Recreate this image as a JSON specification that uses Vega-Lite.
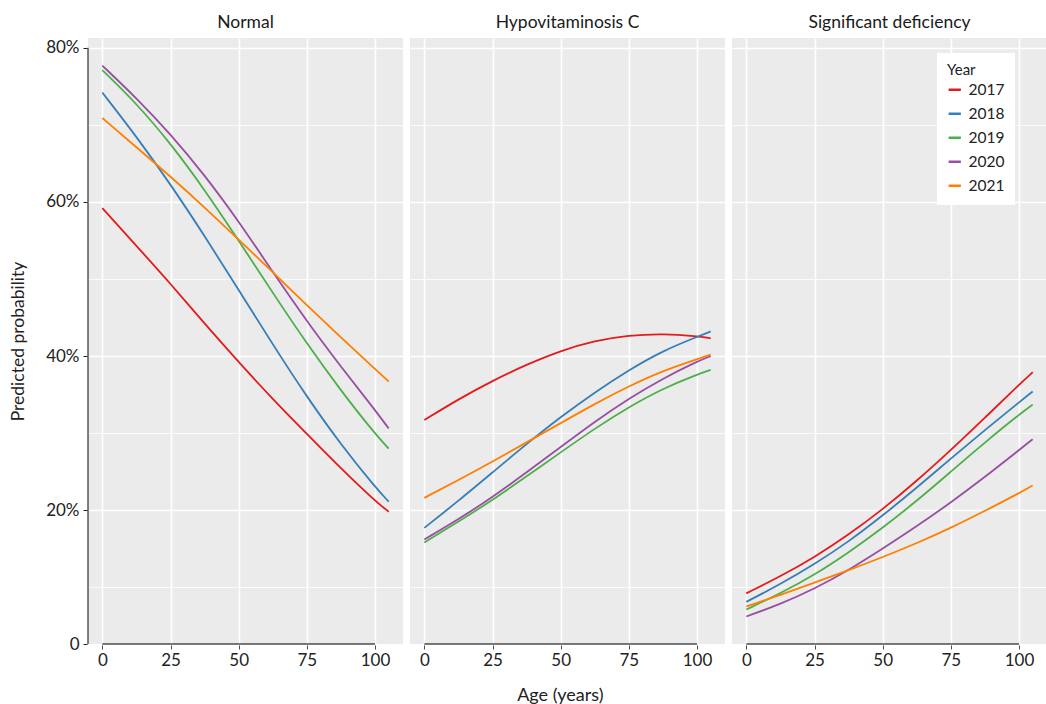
{
  "$schema": "https://vega.github.io/schema/vega-lite/v6.json",
  "padding": {"left": 9, "top": 13, "right": 0, "bottom": 2},
  "title": {"text": "Age (years)", "orient": "bottom", "anchor": "middle", "frame": "bounds", "dx": 32, "fontSize": 18, "fontWeight": "normal", "color": "#222222", "offset": 19},
  "config": {
    "font": "Lato",
    "view": {"fill": "#ebebeb", "stroke": null},
    "axis": {"labelColor": "#222222", "titleColor": "#222222", "titleFontWeight": "normal", "gridColor": "#ffffff"}
  },
  "data": {"values": [
    {"panel":"Normal","year":"2017","age":0,"p":0.592},{"panel":"Normal","year":"2017","age":12.5,"p":0.543},{"panel":"Normal","year":"2017","age":25,"p":0.494},{"panel":"Normal","year":"2017","age":37.5,"p":0.442},{"panel":"Normal","year":"2017","age":50,"p":0.392},{"panel":"Normal","year":"2017","age":62.5,"p":0.344},{"panel":"Normal","year":"2017","age":75,"p":0.299},{"panel":"Normal","year":"2017","age":87.5,"p":0.254},{"panel":"Normal","year":"2017","age":100,"p":0.212},{"panel":"Normal","year":"2017","age":105,"p":0.198},
    {"panel":"Normal","year":"2018","age":0,"p":0.742},{"panel":"Normal","year":"2018","age":12.5,"p":0.685},{"panel":"Normal","year":"2018","age":25,"p":0.623},{"panel":"Normal","year":"2018","age":37.5,"p":0.556},{"panel":"Normal","year":"2018","age":50,"p":0.486},{"panel":"Normal","year":"2018","age":62.5,"p":0.415},{"panel":"Normal","year":"2018","age":75,"p":0.347},{"panel":"Normal","year":"2018","age":87.5,"p":0.285},{"panel":"Normal","year":"2018","age":100,"p":0.230},{"panel":"Normal","year":"2018","age":105,"p":0.211},
    {"panel":"Normal","year":"2019","age":0,"p":0.771},{"panel":"Normal","year":"2019","age":12.5,"p":0.728},{"panel":"Normal","year":"2019","age":25,"p":0.676},{"panel":"Normal","year":"2019","age":37.5,"p":0.616},{"panel":"Normal","year":"2019","age":50,"p":0.550},{"panel":"Normal","year":"2019","age":62.5,"p":0.482},{"panel":"Normal","year":"2019","age":75,"p":0.416},{"panel":"Normal","year":"2019","age":87.5,"p":0.355},{"panel":"Normal","year":"2019","age":100,"p":0.299},{"panel":"Normal","year":"2019","age":105,"p":0.280},
    {"panel":"Normal","year":"2020","age":0,"p":0.777},{"panel":"Normal","year":"2020","age":12.5,"p":0.735},{"panel":"Normal","year":"2020","age":25,"p":0.688},{"panel":"Normal","year":"2020","age":37.5,"p":0.635},{"panel":"Normal","year":"2020","age":50,"p":0.575},{"panel":"Normal","year":"2020","age":62.5,"p":0.509},{"panel":"Normal","year":"2020","age":75,"p":0.445},{"panel":"Normal","year":"2020","age":87.5,"p":0.386},{"panel":"Normal","year":"2020","age":100,"p":0.330},{"panel":"Normal","year":"2020","age":105,"p":0.306},
    {"panel":"Normal","year":"2021","age":0,"p":0.709},{"panel":"Normal","year":"2021","age":12.5,"p":0.671},{"panel":"Normal","year":"2021","age":25,"p":0.633},{"panel":"Normal","year":"2021","age":37.5,"p":0.593},{"panel":"Normal","year":"2021","age":50,"p":0.551},{"panel":"Normal","year":"2021","age":62.5,"p":0.509},{"panel":"Normal","year":"2021","age":75,"p":0.466},{"panel":"Normal","year":"2021","age":87.5,"p":0.424},{"panel":"Normal","year":"2021","age":100,"p":0.383},{"panel":"Normal","year":"2021","age":105,"p":0.367},
    {"panel":"Hypovitaminosis C","year":"2017","age":0,"p":0.317},{"panel":"Hypovitaminosis C","year":"2017","age":12.5,"p":0.344},{"panel":"Hypovitaminosis C","year":"2017","age":25,"p":0.368},{"panel":"Hypovitaminosis C","year":"2017","age":37.5,"p":0.389},{"panel":"Hypovitaminosis C","year":"2017","age":50,"p":0.407},{"panel":"Hypovitaminosis C","year":"2017","age":62.5,"p":0.420},{"panel":"Hypovitaminosis C","year":"2017","age":75,"p":0.427},{"panel":"Hypovitaminosis C","year":"2017","age":87.5,"p":0.429},{"panel":"Hypovitaminosis C","year":"2017","age":100,"p":0.426},{"panel":"Hypovitaminosis C","year":"2017","age":105,"p":0.423},
    {"panel":"Hypovitaminosis C","year":"2018","age":0,"p":0.177},{"panel":"Hypovitaminosis C","year":"2018","age":12.5,"p":0.212},{"panel":"Hypovitaminosis C","year":"2018","age":25,"p":0.249},{"panel":"Hypovitaminosis C","year":"2018","age":37.5,"p":0.286},{"panel":"Hypovitaminosis C","year":"2018","age":50,"p":0.321},{"panel":"Hypovitaminosis C","year":"2018","age":62.5,"p":0.353},{"panel":"Hypovitaminosis C","year":"2018","age":75,"p":0.382},{"panel":"Hypovitaminosis C","year":"2018","age":87.5,"p":0.407},{"panel":"Hypovitaminosis C","year":"2018","age":100,"p":0.425},{"panel":"Hypovitaminosis C","year":"2018","age":105,"p":0.432},
    {"panel":"Hypovitaminosis C","year":"2019","age":0,"p":0.158},{"panel":"Hypovitaminosis C","year":"2019","age":12.5,"p":0.185},{"panel":"Hypovitaminosis C","year":"2019","age":25,"p":0.213},{"panel":"Hypovitaminosis C","year":"2019","age":37.5,"p":0.244},{"panel":"Hypovitaminosis C","year":"2019","age":50,"p":0.275},{"panel":"Hypovitaminosis C","year":"2019","age":62.5,"p":0.306},{"panel":"Hypovitaminosis C","year":"2019","age":75,"p":0.334},{"panel":"Hypovitaminosis C","year":"2019","age":87.5,"p":0.358},{"panel":"Hypovitaminosis C","year":"2019","age":100,"p":0.376},{"panel":"Hypovitaminosis C","year":"2019","age":105,"p":0.382},
    {"panel":"Hypovitaminosis C","year":"2020","age":0,"p":0.162},{"panel":"Hypovitaminosis C","year":"2020","age":12.5,"p":0.188},{"panel":"Hypovitaminosis C","year":"2020","age":25,"p":0.217},{"panel":"Hypovitaminosis C","year":"2020","age":37.5,"p":0.249},{"panel":"Hypovitaminosis C","year":"2020","age":50,"p":0.282},{"panel":"Hypovitaminosis C","year":"2020","age":62.5,"p":0.315},{"panel":"Hypovitaminosis C","year":"2020","age":75,"p":0.345},{"panel":"Hypovitaminosis C","year":"2020","age":87.5,"p":0.371},{"panel":"Hypovitaminosis C","year":"2020","age":100,"p":0.393},{"panel":"Hypovitaminosis C","year":"2020","age":105,"p":0.400},
    {"panel":"Hypovitaminosis C","year":"2021","age":0,"p":0.216},{"panel":"Hypovitaminosis C","year":"2021","age":12.5,"p":0.239},{"panel":"Hypovitaminosis C","year":"2021","age":25,"p":0.263},{"panel":"Hypovitaminosis C","year":"2021","age":37.5,"p":0.288},{"panel":"Hypovitaminosis C","year":"2021","age":50,"p":0.313},{"panel":"Hypovitaminosis C","year":"2021","age":62.5,"p":0.338},{"panel":"Hypovitaminosis C","year":"2021","age":75,"p":0.361},{"panel":"Hypovitaminosis C","year":"2021","age":87.5,"p":0.381},{"panel":"Hypovitaminosis C","year":"2021","age":100,"p":0.396},{"panel":"Hypovitaminosis C","year":"2021","age":105,"p":0.402},
    {"panel":"Significant deficiency","year":"2017","age":0,"p":0.092},{"panel":"Significant deficiency","year":"2017","age":12.5,"p":0.114},{"panel":"Significant deficiency","year":"2017","age":25,"p":0.139},{"panel":"Significant deficiency","year":"2017","age":37.5,"p":0.168},{"panel":"Significant deficiency","year":"2017","age":50,"p":0.201},{"panel":"Significant deficiency","year":"2017","age":62.5,"p":0.238},{"panel":"Significant deficiency","year":"2017","age":75,"p":0.278},{"panel":"Significant deficiency","year":"2017","age":87.5,"p":0.320},{"panel":"Significant deficiency","year":"2017","age":100,"p":0.363},{"panel":"Significant deficiency","year":"2017","age":105,"p":0.379},
    {"panel":"Significant deficiency","year":"2018","age":0,"p":0.081},{"panel":"Significant deficiency","year":"2018","age":12.5,"p":0.104},{"panel":"Significant deficiency","year":"2018","age":25,"p":0.130},{"panel":"Significant deficiency","year":"2018","age":37.5,"p":0.159},{"panel":"Significant deficiency","year":"2018","age":50,"p":0.193},{"panel":"Significant deficiency","year":"2018","age":62.5,"p":0.229},{"panel":"Significant deficiency","year":"2018","age":75,"p":0.267},{"panel":"Significant deficiency","year":"2018","age":87.5,"p":0.304},{"panel":"Significant deficiency","year":"2018","age":100,"p":0.340},{"panel":"Significant deficiency","year":"2018","age":105,"p":0.354},
    {"panel":"Significant deficiency","year":"2019","age":0,"p":0.071},{"panel":"Significant deficiency","year":"2019","age":12.5,"p":0.092},{"panel":"Significant deficiency","year":"2019","age":25,"p":0.116},{"panel":"Significant deficiency","year":"2019","age":37.5,"p":0.145},{"panel":"Significant deficiency","year":"2019","age":50,"p":0.177},{"panel":"Significant deficiency","year":"2019","age":62.5,"p":0.212},{"panel":"Significant deficiency","year":"2019","age":75,"p":0.250},{"panel":"Significant deficiency","year":"2019","age":87.5,"p":0.288},{"panel":"Significant deficiency","year":"2019","age":100,"p":0.324},{"panel":"Significant deficiency","year":"2019","age":105,"p":0.337},
    {"panel":"Significant deficiency","year":"2020","age":0,"p":0.062},{"panel":"Significant deficiency","year":"2020","age":12.5,"p":0.078},{"panel":"Significant deficiency","year":"2020","age":25,"p":0.098},{"panel":"Significant deficiency","year":"2020","age":37.5,"p":0.122},{"panel":"Significant deficiency","year":"2020","age":50,"p":0.150},{"panel":"Significant deficiency","year":"2020","age":62.5,"p":0.179},{"panel":"Significant deficiency","year":"2020","age":75,"p":0.210},{"panel":"Significant deficiency","year":"2020","age":87.5,"p":0.243},{"panel":"Significant deficiency","year":"2020","age":100,"p":0.278},{"panel":"Significant deficiency","year":"2020","age":105,"p":0.292},
    {"panel":"Significant deficiency","year":"2021","age":0,"p":0.075},{"panel":"Significant deficiency","year":"2021","age":12.5,"p":0.090},{"panel":"Significant deficiency","year":"2021","age":25,"p":0.106},{"panel":"Significant deficiency","year":"2021","age":37.5,"p":0.122},{"panel":"Significant deficiency","year":"2021","age":50,"p":0.139},{"panel":"Significant deficiency","year":"2021","age":62.5,"p":0.157},{"panel":"Significant deficiency","year":"2021","age":75,"p":0.177},{"panel":"Significant deficiency","year":"2021","age":87.5,"p":0.199},{"panel":"Significant deficiency","year":"2021","age":100,"p":0.222},{"panel":"Significant deficiency","year":"2021","age":105,"p":0.232}
  ]},
  "facet": {"column": {"field": "panel", "type": "nominal", "sort": ["Normal", "Hypovitaminosis C", "Significant deficiency"], "header": {"title": null, "labelFontSize": 17.5, "labelPadding": 7, "labelColor": "#1a1a1a"}}},
  "spacing": 7,
  "spec": {
    "width": 315,
    "height": 606,
    "layer": [
      {
        "mark": {"type": "line", "strokeWidth": 1.8, "interpolate": "basis"},
        "encoding": {
          "x": {"field": "age", "type": "quantitative", "scale": {"domain": [-5.25, 110.25], "nice": false, "zero": false},
            "axis": {"title": null, "values": [0, 12.5, 25, 37.5, 50, 62.5, 75, 87.5, 100], "labelExpr": "datum.value % 25 == 0 ? datum.label : ''", "labelFlush": false, "grid": true, "gridWidth": {"condition": {"test": "datum.value % 25 != 0", "value": 0.8}, "value": 1.6}, "domain": false, "tickColor": "#4d4d4d", "tickSize": 4, "tickOpacity": {"condition": {"test": "datum.value % 25 != 0", "value": 0}, "value": 1}, "labelFontSize": 17, "labelPadding": 3}},
          "y": {"field": "p", "type": "quantitative", "scale": {"domain": [0.0263, 0.8128], "nice": false, "zero": false},
            "axis": {"title": "Predicted probability", "values": [0.0263, 0.1, 0.2, 0.3, 0.4, 0.5, 0.6, 0.7, 0.8], "labelExpr": "datum.value < 0.05 ? '0' : (round(datum.value*100) % 20 == 0 ? format(datum.value, '.0%') : '')", "grid": true, "gridWidth": {"condition": {"test": "round(datum.value*100) % 20 != 0", "value": 0.8}, "value": 1.6}, "gridOpacity": {"condition": {"test": "datum.value < 0.05", "value": 0}, "value": 1}, "domain": false, "tickColor": "#222222", "tickSize": 4, "tickOpacity": {"condition": {"test": "datum.value > 0.05 && round(datum.value*100) % 20 != 0", "value": 0}, "value": 1}, "labelFontSize": 17, "labelPadding": 4, "titleFontSize": 17.5, "titlePadding": 18}},
          "color": {"field": "year", "type": "nominal", "scale": {"domain": ["2017", "2018", "2019", "2020", "2021"], "range": ["#e41a1c", "#377eb8", "#4daf4a", "#984ea3", "#ff7f00"]},
            "legend": {"title": "Year", "orient": "none", "legendX": 849, "legendY": 15, "fillColor": "#ffffff", "padding": 10, "symbolType": "stroke", "symbolStrokeWidth": 2.5, "symbolSize": 150, "labelFontSize": 15.5, "labelColor": "#222222", "titleFontSize": 15, "titleFontWeight": "normal", "titleColor": "#222222", "rowPadding": 7, "titlePadding": 4, "labelOffset": 6}}
        }
      },
      {
        "transform": [{"filter": "datum.year == '2017' && datum.age == 0"}],
        "mark": {"type": "rule", "color": "#4d4d4d", "strokeWidth": 1.3},
        "encoding": {"x": {"datum": 0}, "x2": {"datum": 100}, "y": {"datum": 0.0263}}
      },
      {
        "transform": [{"filter": "datum.year == '2017' && datum.age == 0 && datum.panel == 'Normal'"}],
        "mark": {"type": "rule", "color": "#1a1a1a", "strokeWidth": 1.1},
        "encoding": {"x": {"datum": -5.25}, "y": {"datum": 0.0263}, "y2": {"datum": 0.8}}
      }
    ]
  }
}
